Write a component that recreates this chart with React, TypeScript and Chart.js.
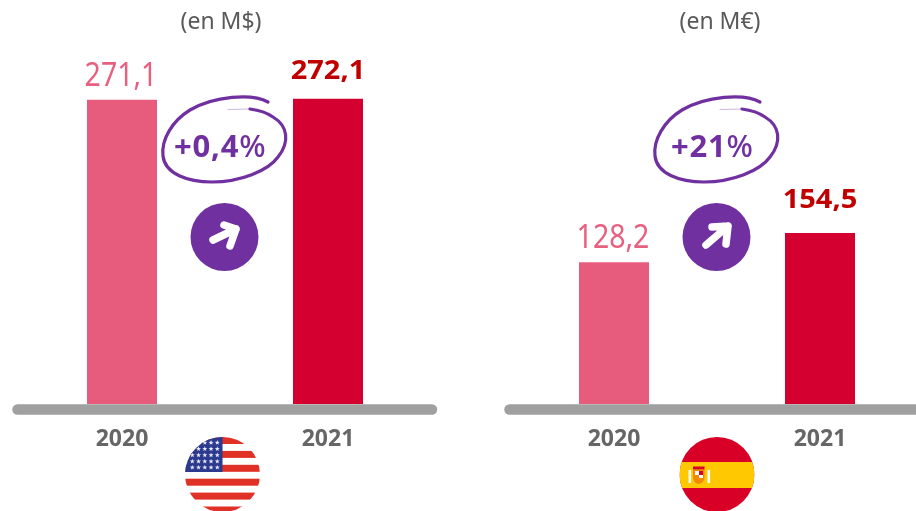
import React, { useEffect, useRef } from "react";
import { Chart, registerables } from "chart.js";

Chart.register(...registerables);

const categories = ["2020", "2021"];
const usValues = [271.1, 272.1];
const esValues = [128.2, 154.5];
const usLabels = ["271,1", "272,1"];
const esLabels = ["128,2", "154,5"];
const usUnit = "(en M$)";
const esUnit = "(en M€)";
const usChange = "+0,4";
const esChange = "+21";

const PURPLE = "#7030a0";
const REG = '"Noto Sans", "Open Sans", sans-serif';
const BOLD = '"Open Sans", "Noto Sans", sans-serif';

function drawUsFlag(ctx: CanvasRenderingContext2D) {
  const cx = 222.5, cy = 474.5, r = 37.5;
  ctx.save();
  ctx.beginPath();
  ctx.arc(cx, cy, r, 0, Math.PI * 2);
  ctx.clip();
  ctx.fillStyle = "#ffffff";
  ctx.fillRect(cx - r, cy - r, 2 * r, 2 * r);
  ctx.fillStyle = "#e03126";
  for (let i = 0; i < 6; i++) ctx.fillRect(cx - r, 437 + i * 13.9, 2 * r, 7);
  ctx.fillStyle = "#2b3a8f";
  ctx.fillRect(cx - r, 437, r, 35);
  ctx.fillStyle = "#e4e6f2";
  for (let row = 0; row < 5; row++) {
    for (let col = 0; col < 5; col++) {
      const sx = 192.3 + col * 6.25;
      const sy = 442.7 + row * 6.2;
      ctx.beginPath();
      for (let k = 0; k < 10; k++) {
        const rad = k % 2 ? 1.1 : 2.6;
        const a = -Math.PI / 2 + (k * Math.PI) / 5;
        ctx.lineTo(sx + rad * Math.cos(a), sy + rad * Math.sin(a));
      }
      ctx.closePath();
      ctx.fill();
    }
  }
  ctx.restore();
}

function drawEsFlag(ctx: CanvasRenderingContext2D) {
  const cx = 225, cy = 474.5, r = 37.5;
  ctx.save();
  ctx.beginPath();
  ctx.arc(cx, cy, r, 0, Math.PI * 2);
  ctx.clip();
  ctx.fillStyle = "#d80027";
  ctx.fillRect(cx - r, cy - r, 2 * r, 2 * r);
  ctx.fillStyle = "#ffc800";
  ctx.fillRect(cx - r, 462, 2 * r, 26);
  ctx.fillStyle = "#ffffff";
  ctx.fillRect(196.5, 470, 2.6, 13);
  ctx.fillRect(215.5, 470, 2.6, 13);
  ctx.fillStyle = "#d80027";
  ctx.fillRect(201, 466.5, 11.5, 3);
  ctx.fillStyle = "#f08a00";
  ctx.beginPath();
  ctx.moveTo(201, 470);
  ctx.lineTo(212.5, 470);
  ctx.lineTo(212.5, 478);
  ctx.quadraticCurveTo(212, 483, 206.7, 484);
  ctx.quadraticCurveTo(201.5, 483, 201, 478);
  ctx.closePath();
  ctx.fill();
  ctx.fillStyle = "#ffffff";
  ctx.fillRect(203, 471, 4, 4);
  ctx.fillRect(207, 475, 4, 3);
  ctx.fillStyle = "#d80027";
  ctx.fillRect(207, 471, 4, 4);
  ctx.restore();
}

function tallText(ctx: CanvasRenderingContext2D, s: string, x: number, y: number, k: number) {
  ctx.save();
  ctx.translate(x, y);
  ctx.scale(1, k);
  ctx.fillText(s, 0, 0);
  ctx.restore();
}

function makeOverlay(
  labels: string[],
  unit: string,
  change: string,
  arrow: number[],
  head: number[],
  flag: (c: CanvasRenderingContext2D) => void,
  unitX: number,
  changeX: number,
  labelGaps: number[],
) {
  return {
    id: "overlay",
    afterDatasetsDraw(chart: any) {
      const ctx: CanvasRenderingContext2D = chart.ctx;
      ctx.save();
      // baseline
      ctx.strokeStyle = "#a0a0a0";
      ctx.lineWidth = 10.5;
      ctx.lineCap = "round";
      ctx.beginPath();
      ctx.moveTo(17.5, 409.5);
      ctx.lineTo(432, 409.5);
      ctx.stroke();

      // unit
      ctx.textAlign = "center";
      ctx.textBaseline = "alphabetic";
      ctx.fillStyle = "#595959";
      ctx.font = `23px ${REG}`;
      ctx.fillText(unit, unitX, 29);

      // value labels
      const bars = chart.getDatasetMeta(0).data;
      bars.forEach((b: any, i: number) => {
        if (i === 0) {
          ctx.fillStyle = "#e8607f";
          ctx.font = `28.5px ${REG}`;
          tallText(ctx, labels[i], b.x - 1, b.y - labelGaps[i], 1.12);
        } else {
          ctx.fillStyle = "#c00000";
          ctx.font = `700 29px ${BOLD}`;
          tallText(ctx, labels[i], b.x, b.y - labelGaps[i], 0.95);
        }
      });

      // hand-drawn ellipse
      ctx.strokeStyle = PURPLE;
      ctx.lineCap = "round";
      ctx.lineWidth = 3.2;
      ctx.beginPath();
      ctx.moveTo(268, 102);
      ctx.bezierCurveTo(252, 93, 214, 96, 190, 110);
      ctx.bezierCurveTo(172, 121, 161, 140, 163, 156);
      ctx.bezierCurveTo(165, 174, 188, 182, 212, 182);
      ctx.bezierCurveTo(240, 182, 268, 171, 278, 157);
      ctx.bezierCurveTo(290, 142, 288, 126, 273, 117);
      ctx.bezierCurveTo(266, 112, 258, 110, 250, 109);
      ctx.stroke();
      ctx.lineWidth = 1;
      ctx.strokeStyle = "rgba(112,48,160,0.35)";
      ctx.beginPath();
      ctx.moveTo(250, 109);
      ctx.lineTo(228, 109.5);
      ctx.stroke();

      // change text
      ctx.fillStyle = PURPLE;
      ctx.textAlign = "left";
      ctx.font = `700 31px ${BOLD}`;
      (ctx as any).letterSpacing = "0.8px";
      const w = ctx.measureText(change).width;
      ctx.fillText(change, changeX, 157);
      (ctx as any).letterSpacing = "0px";
      ctx.font = `500 31px ${REG}`;
      ctx.fillText("%", changeX + w, 157);
      ctx.textAlign = "center";

      // arrow badge
      ctx.beginPath();
      ctx.arc(224.5, 237, 34, 0, Math.PI * 2);
      ctx.fill();
      ctx.strokeStyle = "#ffffff";
      ctx.lineWidth = 7.5;
      ctx.lineCap = "round";
      ctx.lineJoin = "round";
      ctx.beginPath();
      ctx.moveTo(arrow[0], arrow[1]);
      ctx.lineTo(arrow[2], arrow[3]);
      ctx.moveTo(head[0], head[1]);
      ctx.lineTo(arrow[2], arrow[3]);
      ctx.lineTo(head[2], head[3]);
      ctx.stroke();

      flag(ctx);
      ctx.restore();
    },
  };
}

function Panel(props: {
  left: number;
  values: number[];
  yMax: number;
  plugin: any;
}) {
  const ref = useRef<HTMLCanvasElement>(null);
  useEffect(() => {
    const chart = new Chart(ref.current as HTMLCanvasElement, {
      type: "bar",
      data: {
        labels: categories,
        datasets: [
          {
            data: props.values,
            backgroundColor: ["#e75c7c", "#d4002f"],
            barPercentage: 1,
            categoryPercentage: 70 / 206,
          },
        ],
      },
      options: {
        responsive: false,
        animation: false,
        layout: { padding: { left: 19, right: 19, top: 50, bottom: 0 } },
        plugins: { legend: { display: false }, tooltip: { enabled: false } },
        scales: {
          x: {
            grid: { display: false },
            border: { display: false },
            afterFit(scale: any) {
              scale.height = 107;
            },
            ticks: {
              color: "#666666",
              padding: 14,
              maxRotation: 0,
              font: { family: BOLD, weight: "700", size: 23 },
            },
          },
          y: { display: false, min: 0, max: props.yMax },
        },
      },
      plugins: [props.plugin],
    } as any);
    return () => chart.destroy();
  }, []);
  return (
    <canvas
      ref={ref}
      width={450}
      height={511}
      style={{ position: "absolute", left: props.left, top: 0, width: 450, height: 511 }}
    />
  );
}

const usOverlay = makeOverlay(usLabels, usUnit, usChange, [213, 240, 236, 229], [224, 225, 230, 246], drawUsFlag, 221, 174, [14, 19.5]);
const esOverlay = makeOverlay(esLabels, esUnit, esChange, [214, 245, 236, 226], [220, 227, 234, 244], drawEsFlag, 228, 179, [14, 25]);

export default function App() {
  return (
    <div style={{ position: "fixed", left: 0, top: 0, width: 916, height: 511, overflow: "hidden", background: "#fff" }}>
      <Panel left={0} values={usValues} yMax={315.5} plugin={usOverlay} />
      <Panel left={492} values={esValues} yMax={320} plugin={esOverlay} />
    </div>
  );
}
